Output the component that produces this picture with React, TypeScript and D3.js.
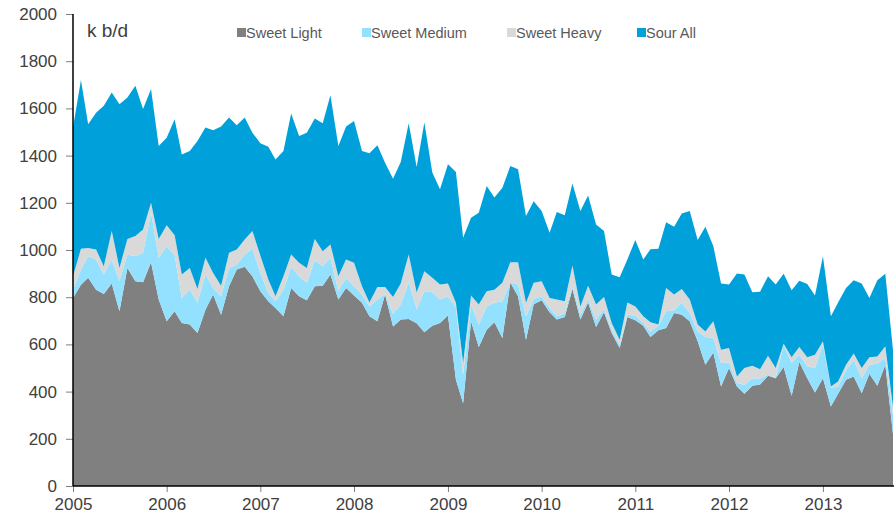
import React, { useEffect, useRef } from "react";
import * as d3 from "d3";

// monthly values, k b/d, Jan 2005 .. Oct 2013
const sweetLight = [
  797, 853, 882, 832, 814, 858, 740, 924, 868, 863, 948, 790,
  698, 740, 691, 684, 648, 747, 811, 726, 846, 917, 929, 889,
  825, 783, 754, 719, 839, 804, 787, 846, 849, 896, 790, 839,
  807, 776, 719, 698, 811, 676, 705, 708, 690, 651, 679, 691,
  722, 450, 351, 698, 589, 662, 694, 627, 861, 804, 620, 770,
  787, 736, 705, 716, 835, 705, 778, 674, 736, 648, 585, 716,
  702, 679, 631, 660, 669, 733, 726, 698, 613, 514, 566, 422,
  500, 422, 391, 425, 430, 467, 457, 504, 382, 525, 457, 396,
  457, 337, 391, 450, 464, 393, 476, 425, 514, 220,
];
const sweetMedium = [
  35, 64, 92, 128, 82, 102, 128, 57, 106, 125, 210, 177,
  318, 238, 106, 150, 128, 149, 28, 78, 78, 21, 52, 116,
  78, 35, 29, 113, 90, 85, 74, 111, 82, 71, 35, 43,
  39, 35, 42, 92, 2, 54, 64, 155, 60, 174, 142, 99,
  82, 305, 120, 71, 95, 99, 82, 156, 0, 50, 99, 22,
  17, 18, 14, 17, 14, 21, 12, 31, 14, 14, 14, 10,
  20, 12, 24, 19, 71, 12, 50, 35, 42, 117, 61, 99,
  24, 14, 38, 32, 25, 4, 3, 95, 139, 31, 50, 104,
  142, 78, 31, 40, 71, 64, 38, 93, 28, 80,
];
const sweetHeavy = [
  57, 88, 35, 42, 35, 120, 56, 66, 85, 99, 42, 80,
  89, 84, 99, 90, 59, 71, 64, 45, 64, 64, 64, 75,
  74, 57, 21, 57, 52, 57, 63, 90, 64, 56, 64, 78,
  100, 35, 17, 53, 30, 71, 89, 118, 70, 85, 61, 64,
  54, 21, 50, 38, 85, 64, 56, 78, 87, 94, 57, 69,
  64, 43, 71, 50, 85, 35, 59, 64, 51, 29, 21, 52,
  39, 28, 39, 5, 99, 66, 59, 57, 29, 24, 71, 56,
  61, 28, 71, 53, 40, 81, 40, 4, 25, 33, 39, 56,
  14, 7, 21, 24, 26, 43, 32, 31, 50, 35,
];
const sourAll = [
  630, 715, 524, 580, 680, 587, 694, 599, 637, 510, 482, 394,
  371, 492, 509, 496, 627, 552, 604, 674, 573, 527, 516, 417,
  475, 563, 580, 531, 597, 537, 573, 510, 542, 633, 552, 563,
  601, 574, 632, 601, 527, 501, 515, 556, 532, 630, 446, 403,
  505, 555, 531, 330, 389, 446, 390, 403, 408, 394, 368, 346,
  297, 276, 371, 364, 348, 404, 382, 339, 279, 205, 265, 182,
  281, 241, 309, 321, 279, 287, 320, 375, 358, 443, 318, 281,
  269, 436, 396, 311, 328, 337, 354, 296, 283, 281, 310, 251,
  361, 297, 335, 325, 311, 358, 251, 323, 307, 240,
];

const seriesKeys = ["light", "medium", "heavy", "sour"];
const seriesNames = ["Sweet Light", "Sweet Medium", "Sweet Heavy", "Sour All"];
const seriesColors = ["#808080", "#93e1ff", "#d9d9d9", "#00a1da"];
const yearTicks = [2005, 2006, 2007, 2008, 2009, 2010, 2011, 2012, 2013];
const yTicks = [0, 200, 400, 600, 800, 1000, 1200, 1400, 1600, 1800, 2000];
const unitLabel = "k b/d";

type Row = { date: Date; light: number; medium: number; heavy: number; sour: number };

const rows: Row[] = sweetLight.map((v, i) => ({
  date: new Date(2005, i, 1),
  light: v,
  medium: sweetMedium[i],
  heavy: sweetHeavy[i],
  sour: sourAll[i],
}));

const App: React.FC = () => {
  const svgRef = useRef<SVGSVGElement>(null);
  const width = 894;
  const height = 520;
  const margin = { top: 14, right: 1, bottom: 34, left: 73 };

  useEffect(() => {
    if (!svgRef.current) return;
    const svg = d3.select(svgRef.current);
    svg.selectAll("*").remove();

    const x = d3
      .scaleTime()
      .domain([rows[0].date, rows[rows.length - 1].date])
      .range([margin.left, width - margin.right]);
    const y = d3
      .scaleLinear()
      .domain([0, 2000])
      .range([height - margin.bottom, margin.top]);

    const stack = d3.stack<Row>().keys(seriesKeys);
    const layers = stack(rows);

    const area = d3
      .area<d3.SeriesPoint<Row>>()
      .x((d) => x(d.data.date))
      .y0((d) => y(d[0]))
      .y1((d) => y(d[1]));

    svg
      .append("g")
      .selectAll("path")
      .data(layers)
      .enter()
      .append("path")
      .attr("d", (d) => area(d) || "")
      .attr("fill", (d, i) => seriesColors[i]);

    const font = "'Liberation Sans', Arial, sans-serif";

    // y axis
    const yAxis = svg
      .append("g")
      .attr("transform", `translate(${margin.left},0)`)
      .call(
        d3
          .axisLeft(y)
          .tickValues(yTicks)
          .tickSize(7)
          .tickPadding(9)
          .tickFormat((d) => String(d))
      );
    yAxis.select(".domain").remove();
    yAxis.selectAll("line").attr("stroke", "#7f7f7f");
    yAxis
      .selectAll("text")
      .attr("fill", "#404040")
      .attr("font-family", font)
      .attr("font-size", "17px");

    // x axis
    const xAxis = svg
      .append("g")
      .attr("transform", `translate(0,${height - margin.bottom})`)
      .call(
        d3
          .axisBottom(x)
          .tickValues(yearTicks.map((yr) => new Date(yr, 0, 1)))
          .tickSize(6)
          .tickPadding(6)
          .tickFormat((d) => d3.timeFormat("%Y")(d as Date))
      );
    xAxis.select(".domain").remove();
    xAxis.selectAll("line").attr("stroke", "#7f7f7f");
    xAxis
      .selectAll("text")
      .attr("fill", "#404040")
      .attr("font-family", font)
      .attr("font-size", "17px");

    // axis lines
    svg
      .append("line")
      .attr("x1", margin.left)
      .attr("x2", margin.left)
      .attr("y1", y(2000))
      .attr("y2", y(0))
      .attr("stroke", "#000")
      .attr("stroke-width", 1.5);
    svg
      .append("line")
      .attr("x1", margin.left)
      .attr("x2", width)
      .attr("y1", y(0))
      .attr("y2", y(0))
      .attr("stroke", "#000")
      .attr("stroke-width", 1.5);

    // unit label
    svg
      .append("text")
      .attr("x", 87)
      .attr("y", 37)
      .attr("fill", "#404040")
      .attr("font-family", font)
      .attr("font-size", "19px")
      .text(unitLabel);

    // legend
    const legendX = [237, 362, 507, 637];
    seriesNames.forEach((name, i) => {
      const item = svg
        .append("g")
        .attr("transform", `translate(${legendX[i]},33)`);
      item
        .append("rect")
        .attr("x", 0)
        .attr("y", -5)
        .attr("width", 9)
        .attr("height", 9)
        .attr("fill", seriesColors[i]);
      item
        .append("text")
        .attr("x", 9)
        .attr("y", 5)
        .attr("fill", "#595959")
        .attr("font-family", font)
        .attr("font-size", "14.5px")
        .text(name);
    });
  }, []);

  return (
    <div>
      <style>{`body{margin:0}`}</style>
      <svg ref={svgRef} width={width} height={height} style={{ display: "block" }} />
    </div>
  );
};

export default App;
